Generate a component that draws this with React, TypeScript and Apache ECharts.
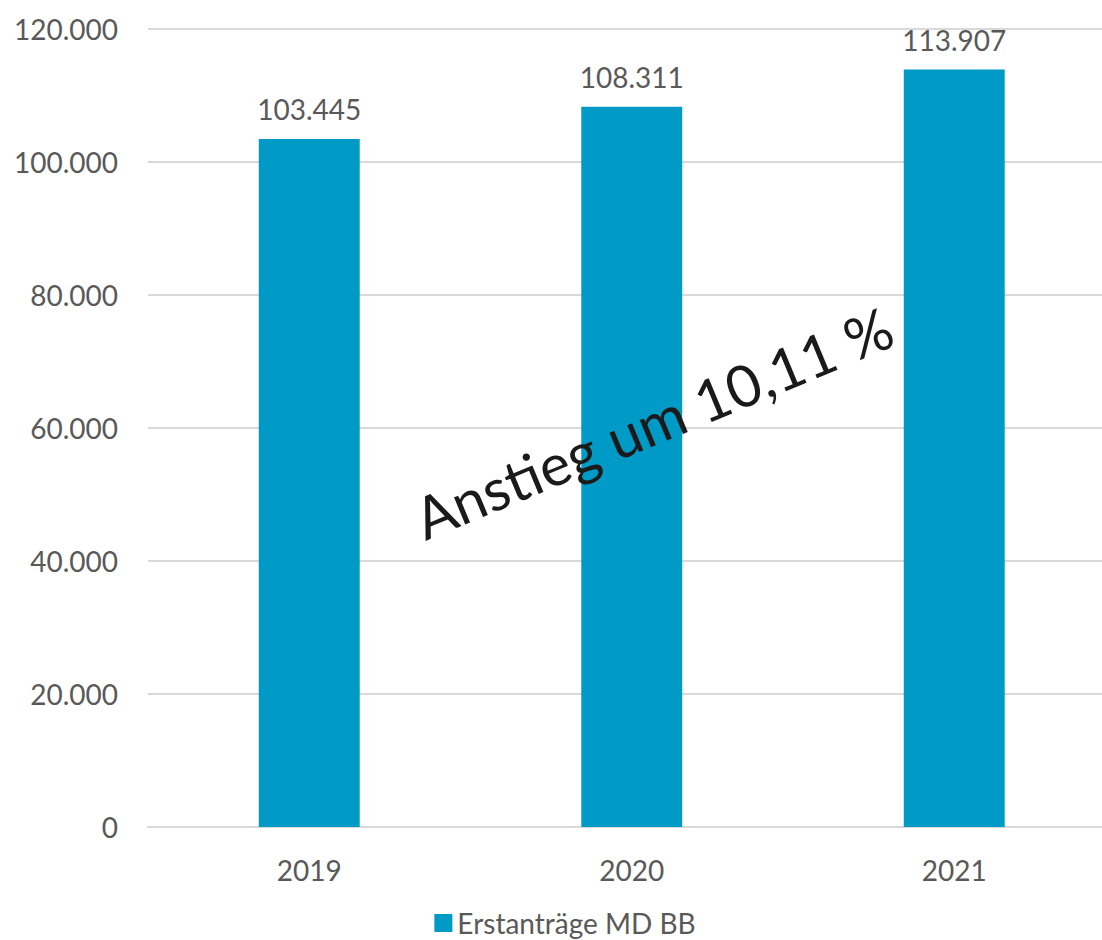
import React, { useEffect, useRef } from "react";
import * as echarts from "echarts";

const categories = ["2019", "2020", "2021"];
const values = [103445, 108311, 113907];
const seriesName = "Erstanträge MD BB";
const annotation = "Anstieg um 10,11 %";
const yTicks = { min: 0, max: 120000, interval: 20000 };

const fmt = (v: number) => String(Math.round(v)).replace(/\B(?=(\d{3})+(?!\d))/g, ".");

export default function App() {
  const ref = useRef<HTMLDivElement>(null);
  useEffect(() => {
    if (!ref.current) return;
    const chart = echarts.init(ref.current, null, { renderer: "svg" });
    const font = "Lato, 'Noto Sans', sans-serif";
    const gray = "#595959";
    chart.setOption({
      animation: false,
      textStyle: { fontFamily: font },
      grid: { left: 148, right: 14.5, top: 29, bottom: 113 },
      legend: {
        bottom: -2,
        left: "center",
        itemWidth: 18,
        itemHeight: 18,
        icon: "rect",
        textStyle: { fontSize: 28, color: gray, fontFamily: font },
        data: [seriesName],
      },
      xAxis: {
        type: "category",
        data: categories,
        axisTick: { show: false },
        axisLine: { lineStyle: { color: "#D9D9D9", width: 2 } },
        axisLabel: { fontSize: 28, color: gray, margin: 29, fontFamily: font },
      },
      yAxis: {
        type: "value",
        min: yTicks.min,
        max: yTicks.max,
        interval: yTicks.interval,
        axisLine: { show: false },
        axisTick: { show: false },
        splitLine: { lineStyle: { color: "#D9D9D9", width: 2 } },
        axisLabel: { fontSize: 28, color: gray, margin: 30, fontFamily: font, formatter: (v: number) => fmt(v) },
      },
      series: [
        {
          name: seriesName,
          type: "bar",
          data: values,
          barWidth: "31.3%",
          itemStyle: { color: "#009AC7" },
          label: {
            show: true,
            position: "top",
            distance: 16,
            fontSize: 28,
            color: gray,
            fontFamily: font,
            formatter: (p: any) => fmt(p.value),
          },
        },
      ],
      graphic: [
        {
          type: "text",
          x: 653,
          y: 422,
          rotation: (22.6 * Math.PI) / 180,
          style: {
            text: annotation,
            fontSize: 58,
            fontFamily: font,
            fill: "#1a1a1a",
            textAlign: "center",
            textVerticalAlign: "middle",
          },
          z: 100,
        },
      ],
    });
    return () => chart.dispose();
  }, []);
  return (
    <div style={{ position: "fixed", left: 0, top: 0, width: 1102, height: 940, overflow: "hidden", background: "#fff" }}>
      <div ref={ref} style={{ width: 1130, height: 940 }} />
    </div>
  );
}
